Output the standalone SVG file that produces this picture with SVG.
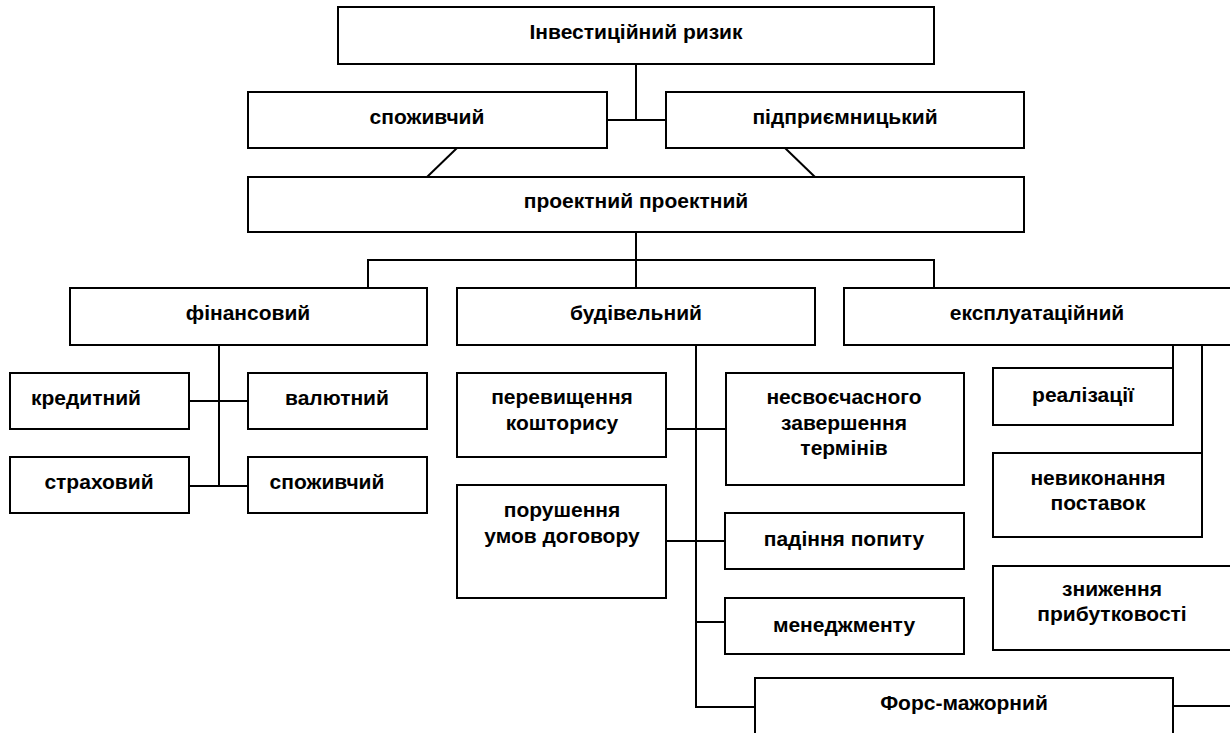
<svg xmlns="http://www.w3.org/2000/svg" width="1230" height="733" viewBox="0 0 1230 733">
<style>
rect{fill:#fff;stroke:#000;stroke-width:2}
.c line,.c polyline{stroke:#000;stroke-width:2;fill:none}
text{font-family:"Liberation Sans",Arial,sans-serif;font-weight:bold;font-size:21px;fill:#000;text-anchor:middle}
</style>
<rect x="0" y="0" width="1230" height="733" style="stroke:none"/>
<g class="c" id="connectors">
<line x1="636" y1="64" x2="636" y2="120"/>
<line x1="607" y1="120" x2="666" y2="120"/>
<line x1="457" y1="148" x2="427" y2="177"/>
<line x1="785" y1="148" x2="815" y2="177"/>
<line x1="636" y1="232" x2="636" y2="288"/>
<polyline points="368,288 368,260 934,260 934,288"/>
<line x1="219" y1="345" x2="219" y2="486"/>
<line x1="189" y1="401" x2="248" y2="401"/>
<line x1="189" y1="486" x2="248" y2="486"/>
<polyline points="696,345 696,707 755,707"/>
<line x1="666" y1="429" x2="726" y2="429"/>
<line x1="666" y1="541" x2="725" y2="541"/>
<line x1="696" y1="622" x2="725" y2="622"/>
<line x1="1173" y1="345" x2="1173" y2="368"/>
<line x1="1202" y1="345" x2="1202" y2="453"/>
<line x1="1173" y1="706" x2="1232" y2="706"/>
</g>
<g id="n1"><rect x="338" y="7" width="596" height="57"/><text x="636" y="39">Інвестиційний ризик</text></g>
<g id="n2"><rect x="248" y="92" width="359" height="56"/><text x="427" y="124">споживчий</text></g>
<g id="n3"><rect x="666" y="92" width="358" height="56"/><text x="845" y="124">підприємницький</text></g>
<g id="n4"><rect x="248" y="177" width="776" height="55"/><text x="636" y="208">проектний проектний</text></g>
<g id="n5"><rect x="70" y="288" width="357" height="57"/><text x="248" y="320">фінансовий</text></g>
<g id="n6"><rect x="457" y="288" width="358" height="57"/><text x="636" y="320">будівельний</text></g>
<g id="n7"><rect x="844" y="288" width="400" height="57"/><text x="1037" y="320">експлуатаційний</text></g>
<g id="n8"><rect x="10" y="373" width="179" height="56"/><text x="86" y="405">кредитний</text></g>
<g id="n9"><rect x="248" y="373" width="179" height="56"/><text x="337" y="405">валютний</text></g>
<g id="n10"><rect x="10" y="457" width="179" height="56"/><text x="99" y="489">страховий</text></g>
<g id="n11"><rect x="248" y="457" width="179" height="56"/><text x="327" y="489">споживчий</text></g>
<g id="n12"><rect x="457" y="373" width="209" height="84"/><text x="562" y="404">перевищення</text><text x="562" y="430">кошторису</text></g>
<g id="n13"><rect x="726" y="373" width="238" height="112"/><text x="844" y="404">несвоєчасного</text><text x="844" y="430">завершення</text><text x="844" y="455">термінів</text></g>
<g id="n14"><rect x="993" y="368" width="180" height="57"/><text x="1083" y="402">реалізації</text></g>
<g id="n15"><rect x="993" y="453" width="209" height="84"/><text x="1098" y="485">невиконання</text><text x="1098" y="510">поставок</text></g>
<g id="n16"><rect x="457" y="485" width="209" height="113"/><text x="562" y="517">порушення</text><text x="562" y="543">умов договору</text></g>
<g id="n17"><rect x="725" y="513" width="239" height="56"/><text x="844" y="546">падіння попиту</text></g>
<g id="n18"><rect x="725" y="598" width="239" height="56"/><text x="844" y="632">менеджменту</text></g>
<g id="n19"><rect x="993" y="566" width="250" height="84"/><text x="1112" y="596">зниження</text><text x="1112" y="621">прибутковості</text></g>
<g id="n20"><rect x="755" y="678" width="418" height="70"/><text x="964" y="710">Форс-мажорний</text></g>
</svg>
